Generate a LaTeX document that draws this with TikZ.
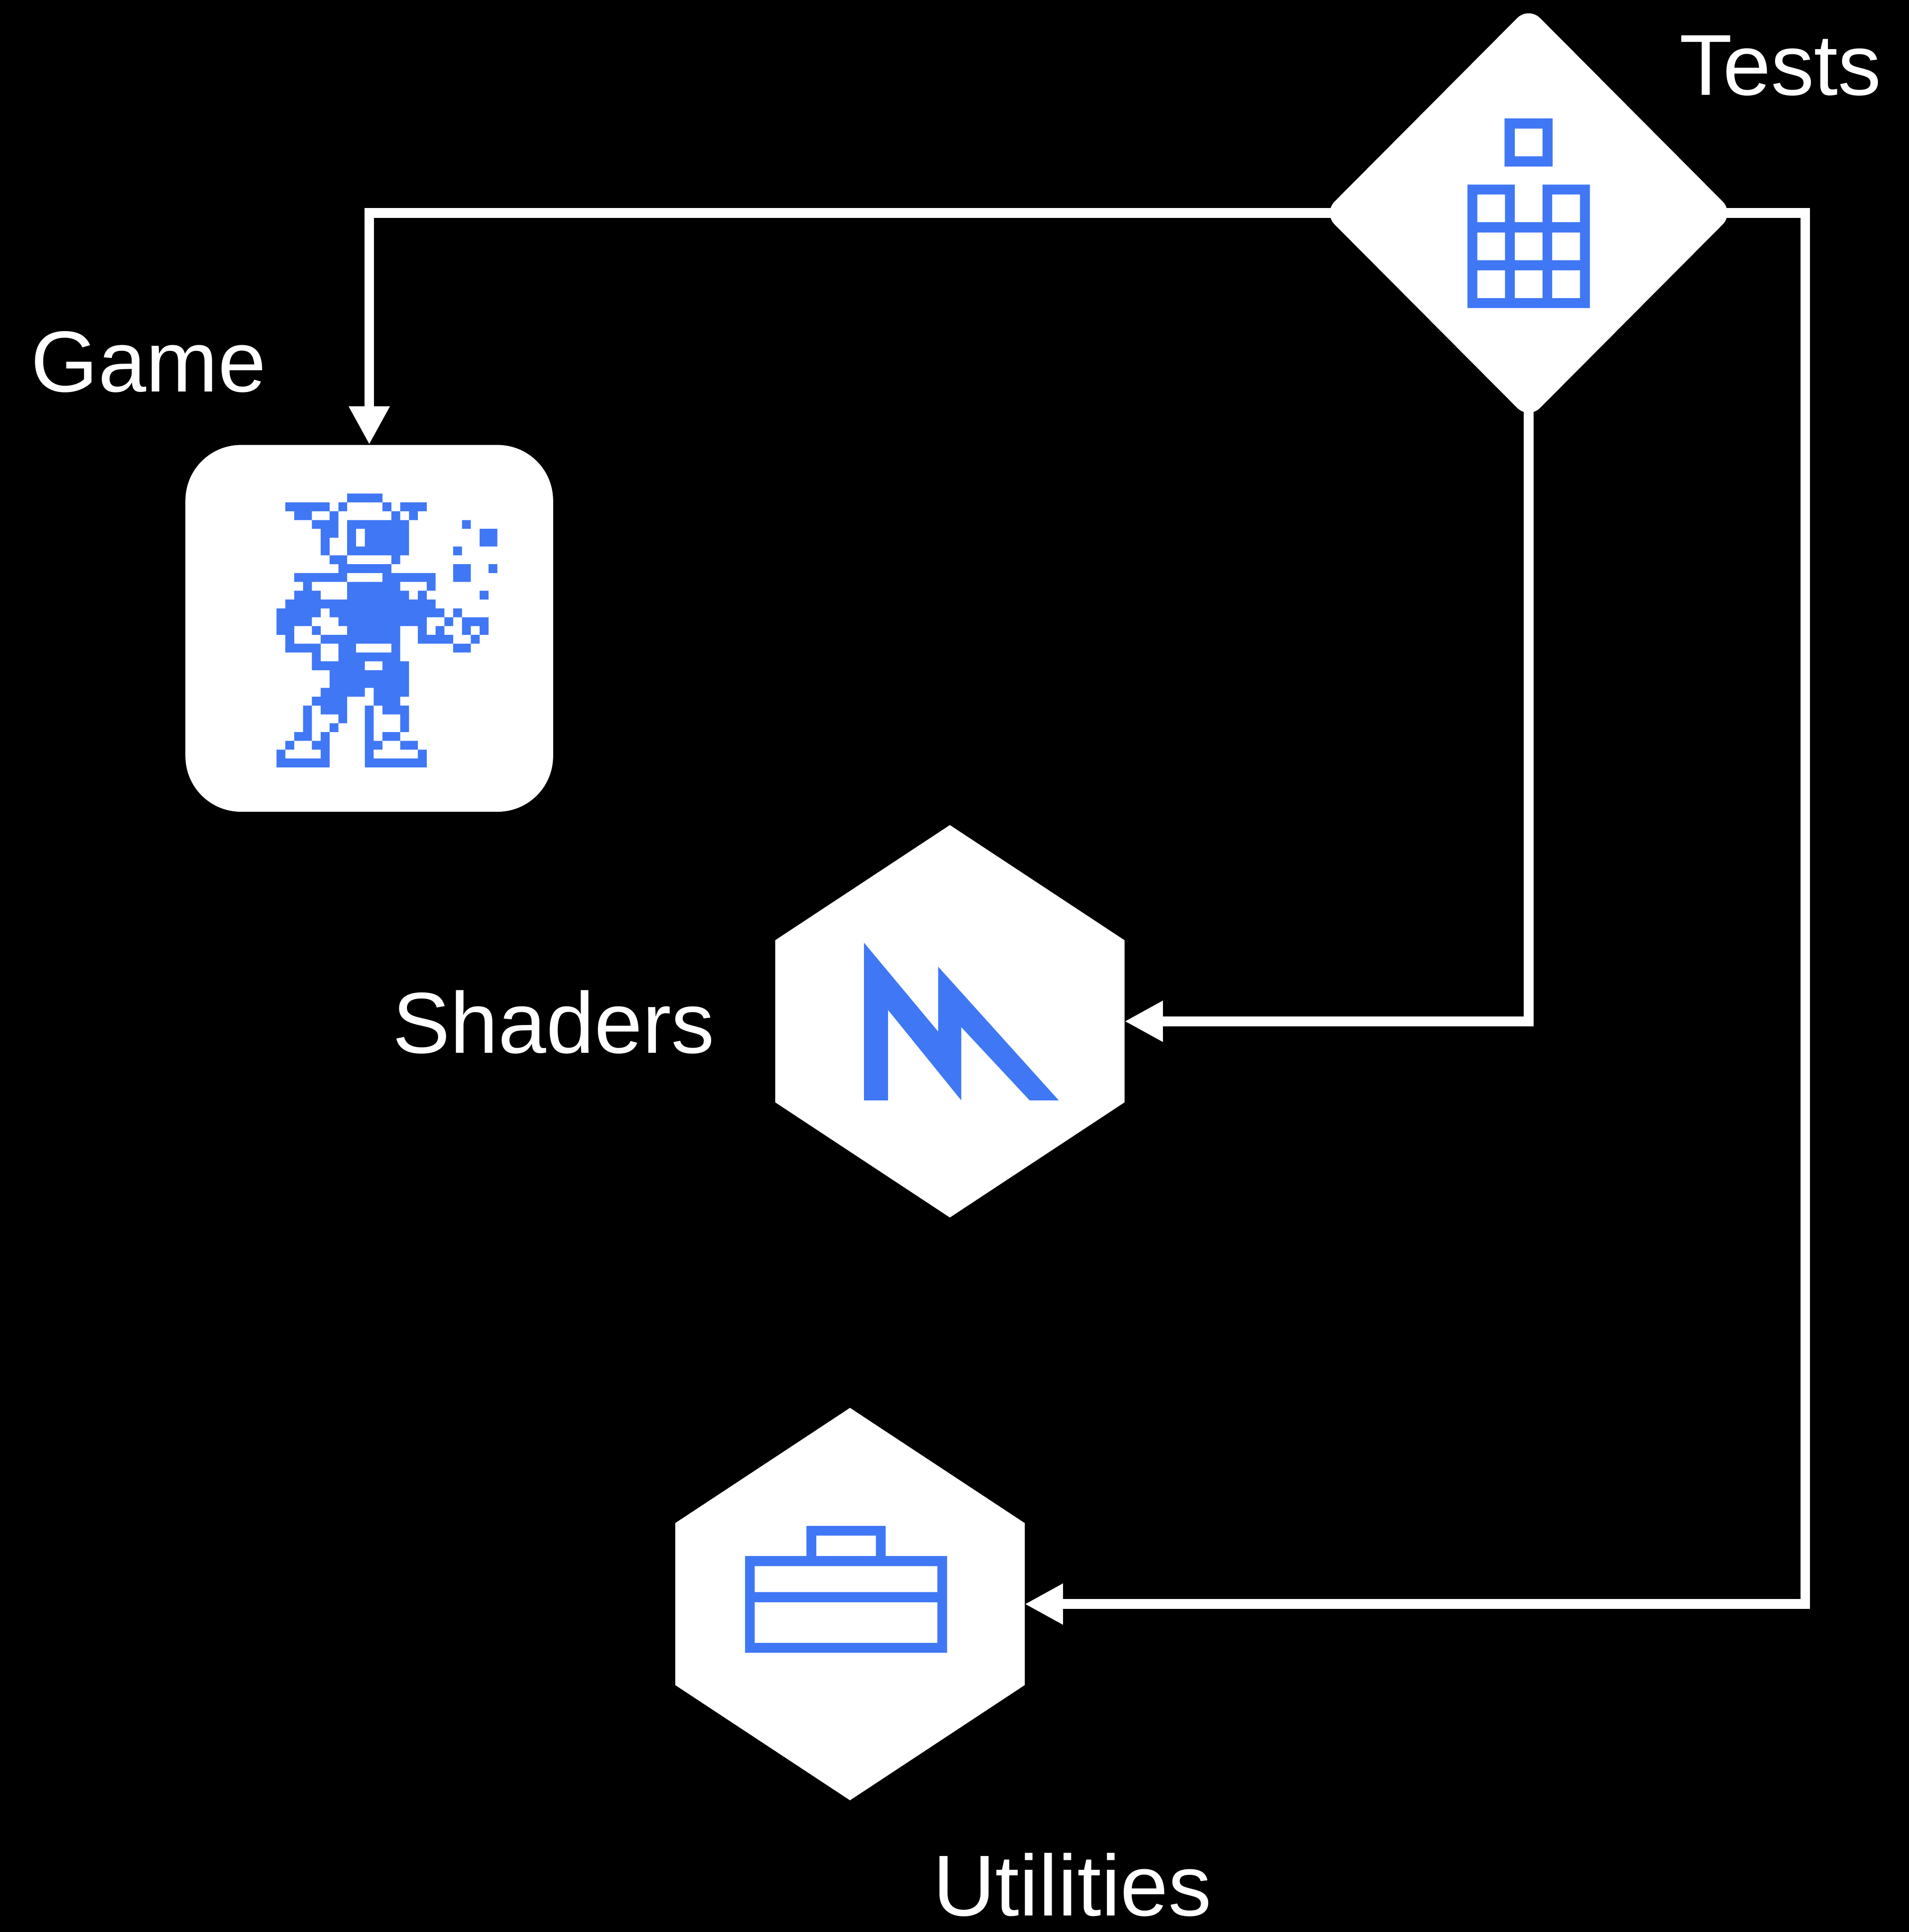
\documentclass[tikz,border=0pt]{standalone}
\usepackage{fontspec}
\setmainfont{Liberation Sans}
\usetikzlibrary{arrows.meta,shapes.geometric}
\definecolor{iconblue}{RGB}{64,119,245}

\begin{document}
\begin{tikzpicture}[line join=miter,
    every node/.style={inner sep=0pt},
    label node/.style={anchor=base west,text=white,font=\fontsize{53.2}{64}\selectfont},
    tests node/.style={diamond,fill=white,rounded corners=0.35cm,minimum width=8.89cm,minimum height=8.93cm},
    game node/.style={rectangle,fill=white,rounded corners=1.2cm,minimum width=7.95cm,minimum height=7.93cm},
    hex node/.style={rectangle,minimum width=7.54cm,minimum height=8.47cm},
    link/.style={draw=white,line width=0.21cm,-{Triangle[length=0.83cm,width=0.83cm]}}]
  \fill[black] (0,0) rectangle (41.28,-41.77);

  \node[tests node] (tests) at (33.055,-4.605) {};
  \node[game node] (game) at (7.985,-13.585) {};
  \node[hex node] (shaders) at (20.54,-22.08) {};
  \node[hex node] (utilities) at (18.38,-34.68) {};
  \foreach \n in {shaders,utilities}
    \fill[white] (\n.north) -- ([yshift=-2.49cm]\n.north east) -- ([yshift=2.49cm]\n.south east)
      -- (\n.south) -- ([yshift=2.49cm]\n.south west) -- ([yshift=-2.49cm]\n.north west) -- cycle;

  % building
  \begin{scope}[shift={(tests.center)}]
    \fill[iconblue,even odd rule] (-0.52,2.045) rectangle (0.52,1.005) (-0.30,1.825) rectangle (0.30,1.225);
    \fill[iconblue,even odd rule] (-1.325,-2.055) -- (-1.325,0.615) -- (-0.30,0.615) -- (-0.30,-0.20)
      -- (0.30,-0.20) -- (0.30,0.615) -- (1.325,0.615) -- (1.325,-2.055) -- cycle
      \foreach \x/\y in {-1.11/0.40, 0.51/0.40, -1.11/-0.42, -0.30/-0.42, 0.51/-0.42,
                         -1.11/-1.24, -0.30/-1.24, 0.51/-1.24}
        { (\x,\y) rectangle ++(0.60,-0.60) };
  \end{scope}

  % pixel man, one run of cells per entry
  \begin{scope}[shift={(game.center)},shift={(-2.005,2.915)},x=0.191cm,y=-0.191cm]
    \fill[iconblue] \foreach \r/\runs in {
        0/{8/11}, 1/{1/5,7/7,12/12,14/16}, 2/{2/3,6/6,13/13,15/15},
        3/{4/6,8/14,21/21}, 4/{5/6,8/8,10/14,23/24}, 5/{5/5,8/8,10/14,23/24},
        6/{5/5,8/14,20/20}, 7/{6/7,13/13}, 8/{7/12,20/21,24/24},
        9/{2/7,12/17,20/21}, 10/{3/3,8/13,17/17}, 11/{2/4,8/14,16/16,23/23},
        12/{1/17}, 13/{0/4,6/18,20/20}, 14/{0/3,7/16,19/19,21/23},
        15/{0/1,4/4,8/13,16/16,18/18,21/21,23/23}, 16/{1/1,5/13,16/19,22/22},
        17/{1/4,7/8,13/13,20/21}, 18/{4/4,7/13}, 19/{4/9,12/14},
        20/{6/14}, 21/{6/14}, 22/{5/9,11/14}, 23/{4/7,11/13},
        24/{3/3,5/7,10/10,12/14}, 25/{3/3,7/7,10/10,14/14}, 26/{3/3,6/6,10/10,14/14},
        27/{2/3,5/5,10/10,12/13}, 28/{1/1,4/5,10/11,14/15}, 29/{0/0,5/5,10/10,16/16},
        30/{0/5,10/16}}
      { \foreach \a/\b in \runs { (\a,\r) rectangle ({\b+1},{\r+1}) } };
  \end{scope}

  % metal logo
  \fill[iconblue,shift={(shaders.center)}] (-1.856,1.698) -- (-0.254,-0.222) -- (-0.254,1.181)
    -- (2.353,-1.709) -- (1.725,-1.709) -- (0.246,-0.126) -- (0.246,-1.709)
    -- (-1.336,0.244) -- (-1.336,-1.709) -- (-1.856,-1.709) -- cycle;

  % toolbox
  \begin{scope}[shift={(utilities.center)}]
    \fill[iconblue] (-0.94,0.95) -- (-0.94,1.69) -- (0.77,1.69) -- (0.77,0.95) -- (0.56,0.95)
      -- (0.56,1.48) -- (-0.73,1.48) -- (-0.73,0.95) -- cycle;
    \fill[iconblue,even odd rule] (-2.27,1.04) rectangle (2.10,-1.05)
      (-2.06,0.82) rectangle (1.89,0.26) (-2.06,0.04) rectangle (1.89,-0.84);
  \end{scope}

  \node[label node] (tests-label) at (36.31,-2.05) {Tests};
  \node[label node] (game-label) at (0.66,-8.47) {Game};
  \node[label node] (shaders-label) at (8.48,-22.77) {Shaders};
  \node[label node] (utilities-label) at (20.17,-41.42) {Utilities};

  % start inside the rounded tips of the diamond
  \draw[link] ([xshift=0.3cm]tests.west) -| (game.north);
  \draw[link] ([yshift=0.3cm]tests.south) |- (shaders.east);
  \draw[link] ([xshift=-0.3cm]tests.east) -- ++(1.83,0) |- (utilities.east);
\end{tikzpicture}
\end{document}
